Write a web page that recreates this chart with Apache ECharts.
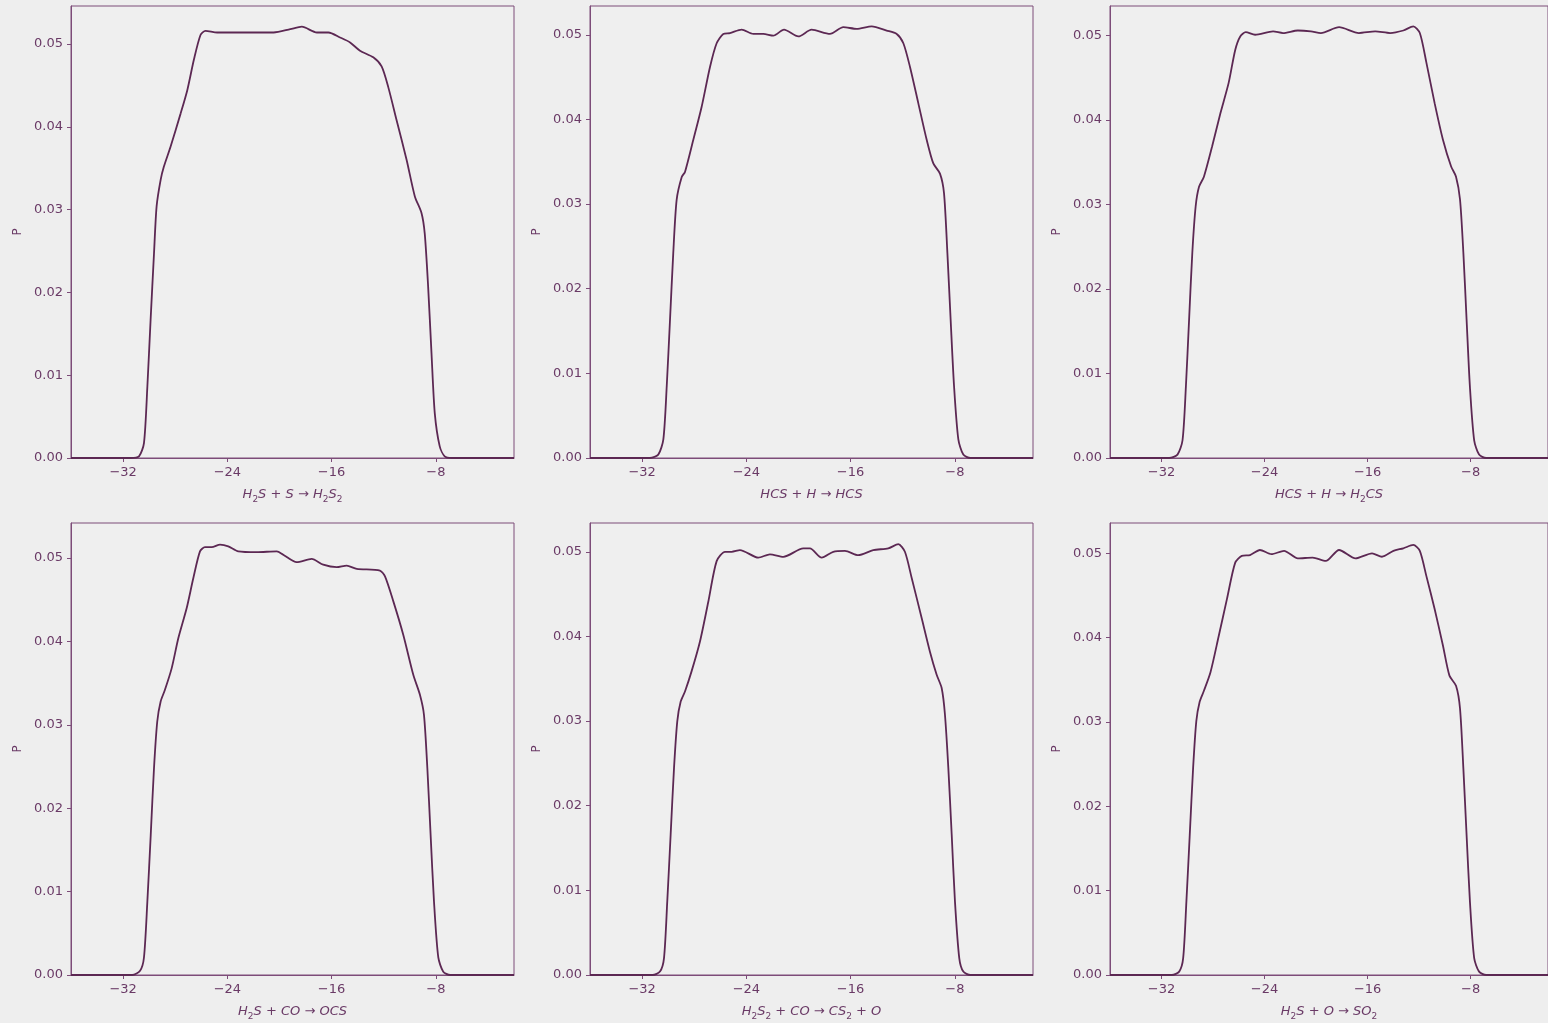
<!DOCTYPE html>
<html>
<head>
<meta charset="utf-8">
<style>
  html, body { margin: 0; padding: 0; background: #eeeeee; }
  #main { width: 1548px; height: 1023px; }
</style>
<script src="https://cdn.jsdelivr.net/npm/echarts@6/dist/echarts.min.js"></script>
</head>
<body>
<div id="main"></div>
<script>
// x-axis labels of the six panels, "_2" means subscript 2
var labels = ['H_2S + S → H_2S_2', 'HCS + H → HCS', 'HCS + H → H_2CS',
              'H_2S + CO → OCS', 'H_2S_2 + CO → CS_2 + O', 'H_2S + O → SO_2'];
var xTicks = [-32, -24, -16, -8];
var yTicks = [0, 0.01, 0.02, 0.03, 0.04, 0.05];
var yTop = [0.0546, 0.0534, 0.0535, 0.0542, 0.0534, 0.0536];

// density curves, [x, P]
var p1 = [[-36, 0], [-31.4, 0], [-30.78, 0.0002], [-30.40, 0.0018], [-30.14, 0.0086], [-29.89, 0.0167],
  [-29.63, 0.0247], [-29.43, 0.0304], [-29.12, 0.0336], [-28.87, 0.0352], [-28.36, 0.0376], [-27.59, 0.0416],
  [-27.08, 0.0444], [-26.57, 0.0481], [-26.06, 0.0511], [-25.68, 0.0516], [-24.78, 0.0514], [-23.25, 0.0514],
  [-20.45, 0.0514], [-19.17, 0.0518], [-18.28, 0.0521], [-17.13, 0.0514], [-16.24, 0.0514], [-15.35, 0.0508],
  [-14.58, 0.0502], [-13.82, 0.0492], [-12.80, 0.0484], [-12.16, 0.0473], [-11.65, 0.0448], [-11.01, 0.0408],
  [-10.24, 0.0360], [-9.61, 0.0316], [-9.10, 0.0296], [-8.85, 0.0271], [-8.59, 0.0207], [-8.33, 0.0126],
  [-8.08, 0.0054], [-7.70, 0.0014], [-7.32, 0.0002], [-6.8, 0], [-2, 0]];

var p2 = [[-36, 0], [-31.4, 0], [-30.76, 0.0004], [-30.37, 0.0022], [-30.11, 0.0085], [-29.86, 0.0163],
  [-29.61, 0.0242], [-29.35, 0.0305], [-28.96, 0.0332], [-28.71, 0.0338], [-28.07, 0.0376], [-27.43, 0.0415],
  [-26.79, 0.0462], [-26.28, 0.0490], [-25.77, 0.0501], [-25.26, 0.0502], [-24.36, 0.0506], [-23.47, 0.0501],
  [-22.70, 0.0501], [-21.93, 0.0499], [-21.11, 0.0506], [-20.01, 0.0498], [-18.99, 0.0506], [-17.58, 0.0501],
  [-16.56, 0.0509], [-15.53, 0.0507], [-14.38, 0.0510], [-13.23, 0.0505], [-12.46, 0.0501], [-11.95, 0.0490],
  [-11.44, 0.0462], [-10.80, 0.0419], [-10.16, 0.0376], [-9.65, 0.0348], [-9.14, 0.0336], [-8.83, 0.0313],
  [-8.57, 0.0242], [-8.32, 0.0163], [-8.06, 0.0085], [-7.73, 0.0022], [-7.35, 0.0004], [-6.8, 0], [-2, 0]];

var p3 = [[-36, 0], [-31.4, 0], [-30.76, 0.0004], [-30.37, 0.0021], [-30.11, 0.0084], [-29.86, 0.0164],
  [-29.61, 0.0243], [-29.35, 0.0298], [-29.09, 0.0321], [-28.71, 0.0333], [-28.07, 0.0369], [-27.43, 0.0408],
  [-26.79, 0.0444], [-26.28, 0.0483], [-25.89, 0.0499], [-25.46, 0.0504], [-24.74, 0.0501], [-23.34, 0.0505],
  [-22.57, 0.0503], [-21.42, 0.0506], [-20.40, 0.0505], [-19.63, 0.0503], [-18.22, 0.0510], [-16.68, 0.0503],
  [-15.41, 0.0505], [-14.26, 0.0503], [-13.23, 0.0506], [-12.46, 0.0511], [-11.95, 0.0503], [-11.44, 0.0468],
  [-10.80, 0.0420], [-10.16, 0.0377], [-9.52, 0.0345], [-9.14, 0.0333], [-8.83, 0.0306], [-8.57, 0.0243],
  [-8.32, 0.0164], [-8.06, 0.0084], [-7.73, 0.0021], [-7.35, 0.0004], [-6.8, 0], [-2, 0]];

var p4 = [[-36, 0], [-31.3, 0], [-30.70, 0.0005], [-30.40, 0.0021], [-30.14, 0.0088], [-29.88, 0.0168],
  [-29.63, 0.0248], [-29.38, 0.0304], [-29.12, 0.0328], [-28.79, 0.0342], [-28.27, 0.0368], [-27.76, 0.0404],
  [-27.12, 0.0440], [-26.61, 0.0476], [-26.10, 0.0508], [-25.72, 0.0513], [-25.20, 0.0513], [-24.56, 0.0516],
  [-23.93, 0.0514], [-23.16, 0.0508], [-21.75, 0.0507], [-20.21, 0.0508], [-19.71, 0.0504], [-18.68, 0.0495],
  [-17.53, 0.0499], [-16.64, 0.0492], [-15.61, 0.0489], [-14.84, 0.0491], [-14.07, 0.0487], [-12.29, 0.0485],
  [-11.90, 0.0478], [-11.26, 0.0448], [-10.50, 0.0408], [-9.73, 0.0360], [-9.22, 0.0336], [-8.91, 0.0312],
  [-8.65, 0.0248], [-8.40, 0.0168], [-8.14, 0.0088], [-7.81, 0.0021], [-7.43, 0.0004], [-6.9, 0], [-2, 0]];

var p5 = [[-36, 0], [-31.2, 0], [-30.63, 0.0004], [-30.32, 0.0020], [-30.07, 0.0087], [-29.81, 0.0166],
  [-29.55, 0.0245], [-29.30, 0.0300], [-29.04, 0.0323], [-28.71, 0.0335], [-28.20, 0.0359], [-27.56, 0.0394],
  [-26.92, 0.0441], [-26.28, 0.0489], [-25.64, 0.0500], [-25.13, 0.0500], [-24.49, 0.0502], [-23.08, 0.0493],
  [-22.19, 0.0497], [-21.16, 0.0494], [-19.63, 0.0504], [-19.12, 0.0504], [-18.22, 0.0493], [-17.33, 0.0500],
  [-16.43, 0.0501], [-15.41, 0.0496], [-14.26, 0.0502], [-13.11, 0.0504], [-12.34, 0.0509], [-11.83, 0.0500],
  [-11.31, 0.0469], [-10.55, 0.0422], [-9.91, 0.0382], [-9.40, 0.0355], [-9.01, 0.0339], [-8.76, 0.0308],
  [-8.50, 0.0245], [-8.24, 0.0166], [-7.99, 0.0087], [-7.66, 0.0020], [-7.35, 0.0004], [-6.8, 0], [-2, 0]];

var p6 = [[-36, 0], [-31.2, 0], [-30.63, 0.0004], [-30.32, 0.0020], [-30.07, 0.0087], [-29.81, 0.0166],
  [-29.55, 0.0245], [-29.30, 0.0301], [-29.04, 0.0324], [-28.71, 0.0337], [-28.20, 0.0359], [-27.56, 0.0402],
  [-26.92, 0.0446], [-26.28, 0.0489], [-25.77, 0.0497], [-25.13, 0.0498], [-24.36, 0.0504], [-23.47, 0.0499],
  [-22.49, 0.0503], [-21.42, 0.0494], [-20.27, 0.0495], [-19.25, 0.0491], [-18.22, 0.0504], [-16.94, 0.0494],
  [-15.66, 0.0500], [-14.89, 0.0496], [-14.00, 0.0503], [-13.23, 0.0506], [-12.46, 0.0510], [-11.95, 0.0503],
  [-11.44, 0.0473], [-10.80, 0.0434], [-10.16, 0.0391], [-9.65, 0.0355], [-9.14, 0.0343], [-8.83, 0.0316],
  [-8.57, 0.0245], [-8.32, 0.0166], [-8.06, 0.0087], [-7.73, 0.0020], [-7.35, 0.0004], [-6.8, 0], [-2, 0]];

var curves = [p1, p2, p3, p4, p5, p6];

var lineColor = '#5c2853';
var frameColor = '#7d4c79';
var textColor = '#6a3a66';
var lefts = [71, 590, 1110];
var tops = [6, 523];

// "H_2S + S" -> rich text, italic letters, upright operators and subscripts
function toRich(s) {
    var out = '';
    for (var i = 0; i < s.length; i++) {
        var c = s[i];
        if (c === '_') { out += '{s|' + s[i + 1] + '}'; i++; }
        else if (c === ' ') { continue; }
        else if (c === '+' || c === '→') { out += '{o| ' + c + ' }'; }
        else { out += '{i|' + c + '}'; }
    }
    return out;
}

var grids = [], xAxes = [], yAxes = [], series = [];
for (var k = 0; k < 6; k++) {
    var r = Math.floor(k / 3), c = k % 3;
    grids.push({
        left: lefts[c], top: tops[r], width: 443, height: 452,
        show: true, borderColor: frameColor, borderWidth: 1, backgroundColor: '#efefef'
    });
    xAxes.push({
        type: 'value', gridIndex: k, min: -36, max: -2,
        splitLine: { show: false },
        axisLine: { show: true, lineStyle: { color: frameColor } },
        axisTick: { show: true, length: 4, lineStyle: { color: frameColor }, customValues: xTicks },
        axisLabel: {
            color: textColor, fontSize: 13, fontFamily: 'DejaVu Sans', margin: 8,
            customValues: xTicks,
            formatter: function (v) { return (v < 0 ? '\u2212' : '') + Math.abs(v); }
        },
        name: toRich(labels[k]), nameLocation: 'middle', nameGap: 28,
        nameTextStyle: {
            color: textColor,
            rich: {
                i: { fontStyle: 'italic', fontSize: 13, fontFamily: 'DejaVu Sans', color: textColor, lineHeight: 18 },
                o: { fontSize: 13, fontFamily: 'DejaVu Sans', color: textColor, lineHeight: 18 },
                s: { fontSize: 9, fontFamily: 'DejaVu Sans', color: textColor, lineHeight: 10, verticalAlign: 'bottom' }
            }
        }
    });
    yAxes.push({
        type: 'value', gridIndex: k, min: 0, max: yTop[k],
        splitLine: { show: false },
        axisLine: { show: true, lineStyle: { color: frameColor } },
        axisTick: { show: true, length: 4, lineStyle: { color: frameColor }, customValues: yTicks },
        axisLabel: {
            color: textColor, fontSize: 13, fontFamily: 'DejaVu Sans', margin: 8,
            customValues: yTicks,
            formatter: function (v) { return v.toFixed(2); }
        },
        name: 'P', nameLocation: 'middle', nameRotate: 90, nameGap: 47,
        nameTextStyle: { color: textColor, fontSize: 12, fontFamily: 'DejaVu Sans' }
    });
    series.push({
        type: 'line', xAxisIndex: k, yAxisIndex: k,
        data: curves[k], showSymbol: false, smooth: 0.25,
        lineStyle: { color: lineColor, width: 1.8 },
        animation: false
    });
}

var chart = echarts.init(document.getElementById('main'));
chart.setOption({
    backgroundColor: '#eeeeee',
    animation: false,
    grid: grids,
    xAxis: xAxes,
    yAxis: yAxes,
    series: series
});
</script>
</body>
</html>
